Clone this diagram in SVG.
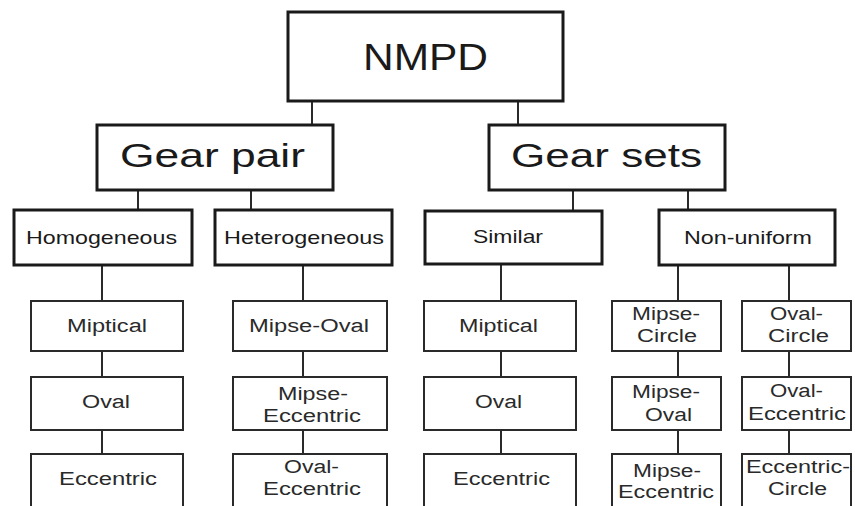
<svg xmlns="http://www.w3.org/2000/svg" width="855" height="506" viewBox="0 0 855 506">
<style>
.b{fill:#fff;stroke:#1a1a1a;stroke-width:3}
.s{fill:#fff;stroke:#2a2a2a;stroke-width:2}
.c{stroke:#2a2a2a;stroke-width:2;fill:none}
text{font-family:"Liberation Sans",Arial,sans-serif;text-anchor:middle;fill:#1a1a1a}
.t1{font-size:37px}
.t2{font-size:33px}
.t3{font-size:19px}
.t4{font-size:18px;fill:#2a2a2a}
</style>
<rect width="855" height="506" fill="#fff"/>
<g id="connectors">
<path class="c" d="M312 101V125M518 101V125M138 190V210M251 190V210M573 190V210M688 190V210M102 265V301M102 351V377M102 430V454M303 265V301M303 351V377M303 430V454M501 264V301M501 351V377M501 430V454M678 265V301M678 351V377M678 430V454M789 265V301M789 351V377M789 430V454"/>
</g>
<g id="nmpd"><rect class="b" x="288" y="12" width="275" height="89"/><text class="t1" x="425.5" y="70" textLength="125" lengthAdjust="spacingAndGlyphs">NMPD</text></g>
<g id="gear-pair"><rect class="b" x="97" y="125" width="236" height="65"/><text class="t2" x="212.5" y="167" textLength="185" lengthAdjust="spacingAndGlyphs">Gear pair</text></g>
<g id="gear-sets"><rect class="b" x="489" y="125" width="236" height="65"/><text class="t2" x="606.5" y="167" textLength="191" lengthAdjust="spacingAndGlyphs">Gear sets</text></g>
<g id="homogeneous"><rect class="b" x="14" y="210" width="178" height="55"/><text class="t3" x="101.5" y="244" textLength="151" lengthAdjust="spacingAndGlyphs">Homogeneous</text></g>
<g id="heterogeneous"><rect class="b" x="215" y="210" width="177" height="55"/><text class="t3" x="304" y="244" textLength="160" lengthAdjust="spacingAndGlyphs">Heterogeneous</text></g>
<g id="similar"><rect class="b" x="425" y="211" width="177" height="53"/><text class="t3" x="508" y="243" textLength="70" lengthAdjust="spacingAndGlyphs">Similar</text></g>
<g id="non-uniform"><rect class="b" x="659" y="210" width="176" height="55"/><text class="t3" x="748" y="244" textLength="128" lengthAdjust="spacingAndGlyphs">Non-uniform</text></g>

<g id="homo-miptical"><rect class="s" x="31" y="301" width="152" height="50"/><text class="t4" x="107" y="332" textLength="80" lengthAdjust="spacingAndGlyphs">Miptical</text></g>
<g id="homo-oval"><rect class="s" x="31" y="377" width="152" height="53"/><text class="t4" x="106" y="408" textLength="48" lengthAdjust="spacingAndGlyphs">Oval</text></g>
<g id="homo-eccentric"><rect class="s" x="31" y="454" width="152" height="56"/><text class="t4" x="108" y="485" textLength="98" lengthAdjust="spacingAndGlyphs">Eccentric</text></g>

<g id="het-mipse-oval"><rect class="s" x="233" y="301" width="154" height="50"/><text class="t4" x="309" y="332" textLength="120" lengthAdjust="spacingAndGlyphs">Mipse-Oval</text></g>
<g id="het-mipse-eccentric"><rect class="s" x="233" y="377" width="154" height="53"/><text class="t4" x="313" y="400" textLength="70" lengthAdjust="spacingAndGlyphs">Mipse-</text><text class="t4" x="312" y="422" textLength="98" lengthAdjust="spacingAndGlyphs">Eccentric</text></g>
<g id="het-oval-eccentric"><rect class="s" x="233" y="454" width="154" height="56"/><text class="t4" x="311.5" y="473" textLength="55" lengthAdjust="spacingAndGlyphs">Oval-</text><text class="t4" x="312" y="495" textLength="98" lengthAdjust="spacingAndGlyphs">Eccentric</text></g>

<g id="sim-miptical"><rect class="s" x="424" y="301" width="152" height="50"/><text class="t4" x="498.5" y="332" textLength="79" lengthAdjust="spacingAndGlyphs">Miptical</text></g>
<g id="sim-oval"><rect class="s" x="424" y="377" width="152" height="53"/><text class="t4" x="498.5" y="408" textLength="47" lengthAdjust="spacingAndGlyphs">Oval</text></g>
<g id="sim-eccentric"><rect class="s" x="424" y="454" width="152" height="56"/><text class="t4" x="501.5" y="485" textLength="97" lengthAdjust="spacingAndGlyphs">Eccentric</text></g>

<g id="nu-mipse-circle"><rect class="s" x="612" y="301" width="109" height="50"/><text class="t4" x="666" y="320" textLength="68" lengthAdjust="spacingAndGlyphs">Mipse-</text><text class="t4" x="667" y="342" textLength="60" lengthAdjust="spacingAndGlyphs">Circle</text></g>
<g id="nu-mipse-oval"><rect class="s" x="612" y="377" width="109" height="53"/><text class="t4" x="666" y="398" textLength="68" lengthAdjust="spacingAndGlyphs">Mipse-</text><text class="t4" x="668.5" y="421" textLength="47" lengthAdjust="spacingAndGlyphs">Oval</text></g>
<g id="nu-mipse-eccentric"><rect class="s" x="612" y="454" width="109" height="56"/><text class="t4" x="667" y="477" textLength="68" lengthAdjust="spacingAndGlyphs">Mipse-</text><text class="t4" x="666" y="498" textLength="96" lengthAdjust="spacingAndGlyphs">Eccentric</text></g>

<g id="nu-oval-circle"><rect class="s" x="742" y="301" width="109" height="50"/><text class="t4" x="796.5" y="320" textLength="53" lengthAdjust="spacingAndGlyphs">Oval-</text><text class="t4" x="798.5" y="342" textLength="61" lengthAdjust="spacingAndGlyphs">Circle</text></g>
<g id="nu-oval-eccentric"><rect class="s" x="742" y="377" width="109" height="53"/><text class="t4" x="796.5" y="397" textLength="53" lengthAdjust="spacingAndGlyphs">Oval-</text><text class="t4" x="797" y="420" textLength="98" lengthAdjust="spacingAndGlyphs">Eccentric</text></g>
<g id="nu-eccentric-circle"><rect class="s" x="742" y="454" width="109" height="56"/><text class="t4" x="798" y="473" textLength="104" lengthAdjust="spacingAndGlyphs">Eccentric-</text><text class="t4" x="797.5" y="495" textLength="59" lengthAdjust="spacingAndGlyphs">Circle</text></g>
</svg>
